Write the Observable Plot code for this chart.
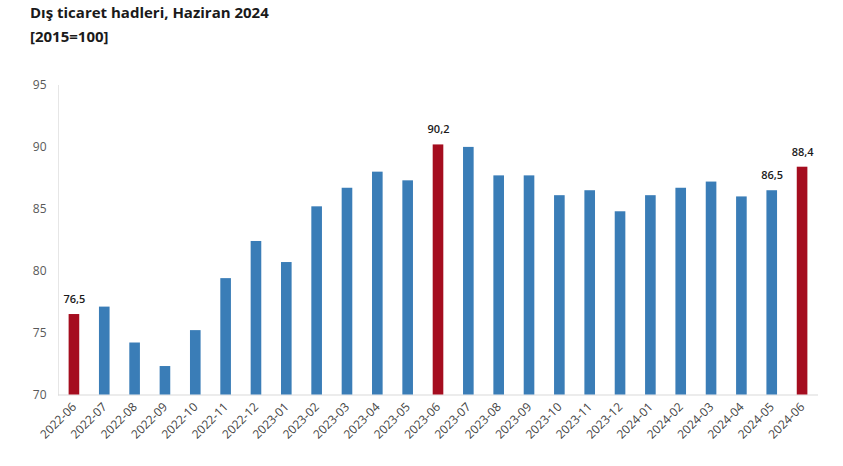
<!DOCTYPE html>
<html>
<head>
<meta charset="utf-8">
<script src="https://cdn.jsdelivr.net/npm/d3@7"></script>
<script src="https://cdn.jsdelivr.net/npm/@observablehq/plot@0.6"></script>
<style>
  html, body { margin: 0; padding: 0; background: #fff; }
  #wrap { position: relative; width: 843px; height: 466px; font-family: "Open Sans", "Noto Sans", sans-serif; }
  #title { position: absolute; left: 30px; top: 0px; font-weight: 700; font-size: 15px; line-height: 24px; color: #1a1a1a; }
  #chart { position: absolute; left: 0; top: 60px; }
</style>
</head>
<body>
<div id="wrap">
  <div id="title">Dış ticaret hadleri, Haziran 2024<br>[2015=100]</div>
  <div id="chart"></div>
</div>
<script>
const months = ["2022-06","2022-07","2022-08","2022-09","2022-10","2022-11","2022-12","2023-01","2023-02","2023-03","2023-04","2023-05","2023-06","2023-07","2023-08","2023-09","2023-10","2023-11","2023-12","2024-01","2024-02","2024-03","2024-04","2024-05","2024-06"];
const values = [76.5,77.1,74.2,72.3,75.2,79.4,82.4,80.7,85.2,86.7,88.0,87.3,90.2,90.0,87.7,87.7,86.1,86.5,84.8,86.1,86.7,87.2,86.0,86.5,88.4];
const highlighted = ["2022-06","2023-06","2024-06"];
const labelled = ["2022-06","2023-06","2024-05","2024-06"];
const yTicks = [70,75,80,85,90,95];

const data = months.map((m, i) => ({month: m, value: values[i], hl: highlighted.includes(m)}));
const fmt = v => v.toFixed(1).replace(".", ",");

const chart = Plot.plot({
  width: 843,
  height: 406,
  marginLeft: 58,
  marginRight: 25,
  marginTop: 25,
  marginBottom: 71.5,
  style: {fontFamily: "'Open Sans', 'Noto Sans', sans-serif", fontSize: "12px", color: "#595959", background: "#fff"},
  x: {domain: months, paddingInner: 0.65, paddingOuter: 0.35, round: false, label: null},
  y: {domain: [70, 95], label: null},
  marks: [
    Plot.frame({anchor: "left", stroke: "#e6e6e6"}),
    Plot.ruleY([70], {stroke: "#d9d9d9"}),
    Plot.barY(data, {x: "month", y1: 70, y2: "value", fill: d => d.hl ? "#a50d1f" : "#3a7db7"}),
    Plot.text(data.filter(d => labelled.includes(d.month)), {x: "month", y: "value", text: d => fmt(d.value), dy: -15, fontSize: 11, fontWeight: 600, fill: "#1a1a1a"}),
    Plot.axisY({ticks: yTicks, tickSize: 0, tickPadding: 12, fontSize: 12, fill: "#595959"}),
    Plot.axisX({tickSize: 0, tickPadding: 10, tickRotate: -45, fontSize: 12, fill: "#444"})
  ]
});
document.getElementById("chart").appendChild(chart);
</script>
</body>
</html>
